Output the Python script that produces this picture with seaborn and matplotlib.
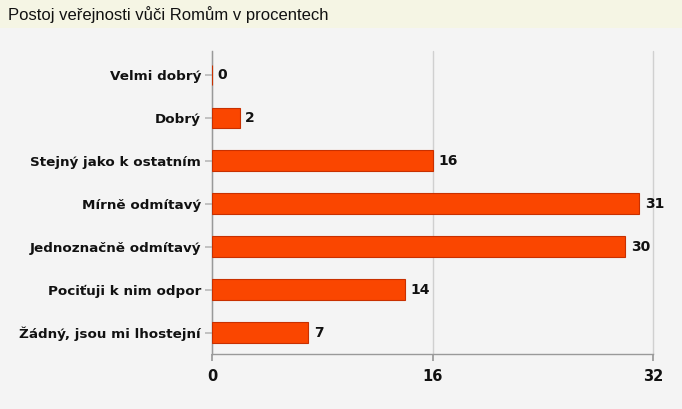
import matplotlib
matplotlib.use("Agg")
import matplotlib.pyplot as plt
import seaborn as sns
import pandas as pd
from matplotlib.patches import Rectangle

categories = ["Velmi dobrý", "Dobrý", "Stejný jako k ostatním", "Mírně odmítavý",
              "Jednoznačně odmítavý", "Pociťuji k nim odpor", "Žádný, jsou mi lhostejní"]
values = [0, 2, 16, 31, 30, 14, 7]
xticks = [0, 16, 32]
title = "Postoj veřejnosti vůči Romům v procentech"

sns.set_theme(style="white")
plt.rcParams['font.family'] = ['Liberation Sans', 'DejaVu Sans']

df = pd.DataFrame({"cat": categories, "val": values})

fig = plt.figure(figsize=(6.82, 4.09), dpi=100, facecolor="#f4f4f4")
fig.patches.append(Rectangle((0, 1 - 28/409), 1, 28/409, transform=fig.transFigure,
                             facecolor="#f5f5e4", edgecolor="none", zorder=0))
fig.text(8/682, 1 - 15/409, title, fontsize=12, color="#111111", va="center", ha="left")

ax = fig.add_axes([212/682, 1 - 354/409, (653 - 212)/682, (354 - 51)/409])
ax.set_facecolor("#f4f4f4")
sns.barplot(data=df, y="cat", x="val", orient="h", color="#fa4600", saturation=1,
            width=0.47, edgecolor="#c83000", linewidth=0.8, ax=ax, zorder=3)

ax.set_xlim(0, 32)
ax.set_ylim(6.5, -0.55)
ax.set_xticks(xticks)
ax.set_xticklabels([str(t) for t in xticks], fontweight="bold", fontsize=10.5,
                   color="#111111", family=["DejaVu Sans"])
ax.set_yticks(range(len(categories)))
ax.set_yticklabels(categories, fontweight="bold", fontsize=9.7, color="#111111",
                   family=["DejaVu Sans"])
ax.set_xlabel("")
ax.set_ylabel("")

ax.xaxis.grid(True, color="#d0d0d0", linewidth=1, zorder=0)
for gl in ax.get_xgridlines():
    gl.set_clip_on(False)
ax.yaxis.grid(False)
for s in ["top", "right"]:
    ax.spines[s].set_visible(False)
for s in ["left", "bottom"]:
    ax.spines[s].set_color("#999999")
    ax.spines[s].set_linewidth(1)
ax.tick_params(axis="x", bottom=True, length=5, color="#999999", pad=6)
ax.tick_params(axis="y", left=True, length=5, color="#bbbbbb", pad=3)

for i, v in enumerate(values):
    ax.annotate(str(v), xy=(v, i), xytext=(4, 0), textcoords="offset points",
                va="center", ha="left", fontweight="bold", fontsize=10,
                color="#111111", family=["DejaVu Sans"])

fig.savefig("out.png", dpi=100, facecolor=fig.get_facecolor())
